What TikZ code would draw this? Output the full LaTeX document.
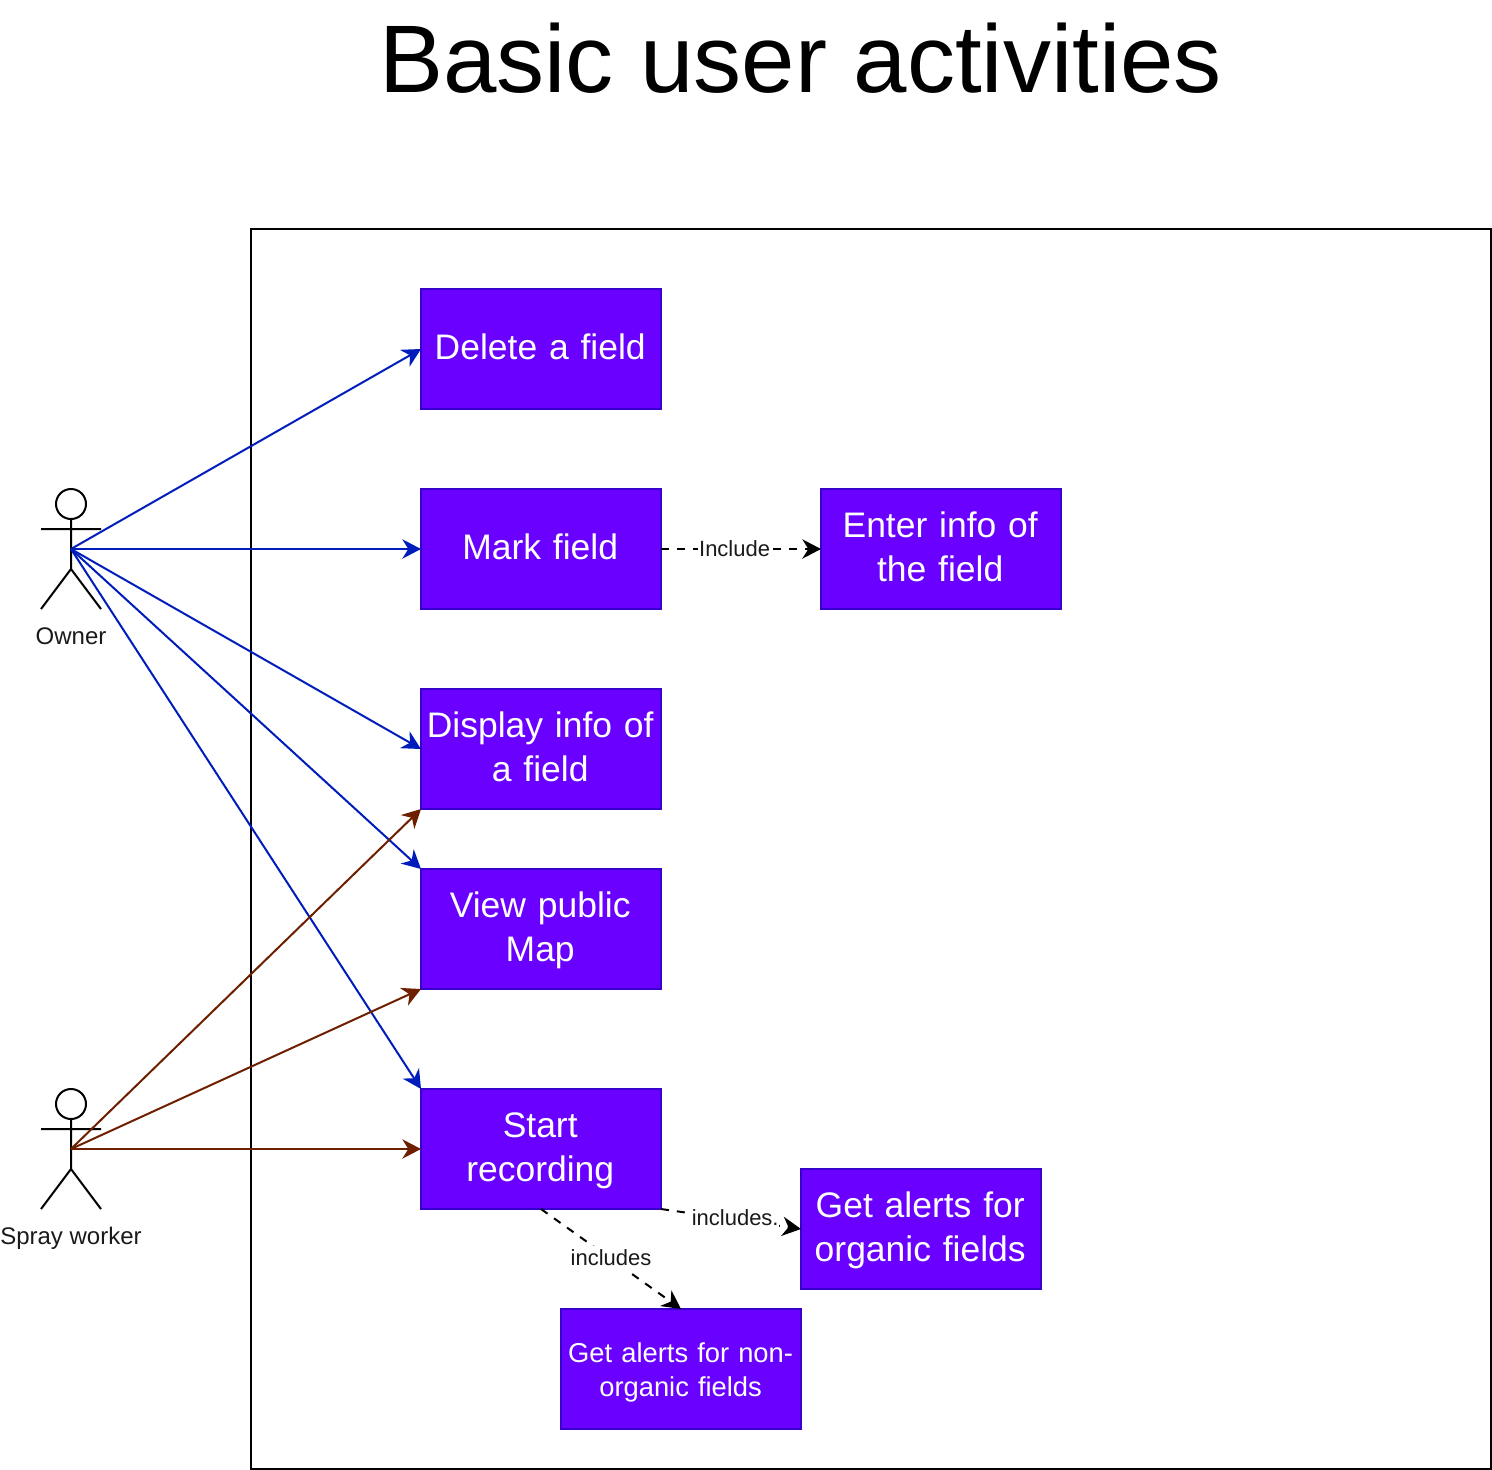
\documentclass[tikz,border=0pt]{standalone}
\usepackage{fontspec}
\setmainfont{Liberation Sans}
\usetikzlibrary{arrows.meta}
\definecolor{boxfill}{HTML}{6A00FF}
\definecolor{boxline}{HTML}{3700CC}
\definecolor{ownerblue}{HTML}{001DBC}
\definecolor{sprayred}{HTML}{6D1F00}
\definecolor{labelgrey}{HTML}{1A1A1A}
\newcommand{\bigstrut}{\rule[-8.5pt]{0pt}{33pt}\kern-1.2pt\relax}
\newcommand{\smallstrut}{\rule[-5pt]{0pt}{25.5pt}\kern-0.6pt\relax}
\tikzset{
  x=0.75pt,y=-0.75pt,
  tipshape/.tip={Stealth[length=14pt,width=14.5pt,inset=4.5pt]},
  usebox/.style={draw=boxline,fill=boxfill,line width=1.5pt,text=white,minimum width=180pt,minimum height=90pt,inner sep=0pt,outer sep=0pt,align=center,text width=175pt,font=\fontsize{26.6}{33}\selectfont},
  smallbox/.style={usebox,font=\fontsize{20.5}{25.5}\selectfont},
  framebox/.style={draw=black,line width=1.5pt,fill=none},
  actorline/.style={draw=black,line width=1.5pt},
  actorlabel/.style={text=labelgrey,inner sep=0pt,text height=13pt,text depth=0pt,font=\fontsize{18}{21}\selectfont},
  ownerlink/.style={draw=ownerblue,line width=1.5pt,-{tipshape[fill=ownerblue]}},
  spraylink/.style={draw=sprayred,line width=1.5pt,-{tipshape[fill=sprayred]}},
  dashlink/.style={draw=black,line width=1.5pt,dash pattern=on 6pt off 6pt,-{tipshape[fill=black]}},
  linklabel/.style={fill=white,text=labelgrey,inner xsep=0.5pt,inner ysep=0pt,text height=14.5pt,text depth=5.5pt,font=\fontsize{16.5}{19}\selectfont},
}
\begin{document}
\begin{tikzpicture}
\useasboundingbox (0,0) rectangle (1492,1470);
\node[inner sep=0pt,font=\fontsize{72}{80}\selectfont] (title) at (800.5,58) {Basic user activities};
\draw[framebox] (251,229) rectangle (1491,1469);

\node[usebox] (delete) at (541,349) {\bigstrut Delete a field};
\node[usebox] (mark) at (541,549) {\bigstrut Mark field};
\node[usebox] (enter) at (941,549) {\bigstrut Enter info of\\\bigstrut the field};
\node[usebox] (display) at (541,749) {\bigstrut Display info of\\\bigstrut a field};
\node[usebox] (view) at (541,929) {\bigstrut View public\\\bigstrut Map};
\node[usebox] (start) at (541,1149) {\bigstrut Start\\\bigstrut recording};
\node[usebox] (organic) at (921,1229) {\bigstrut Get alerts for\\\bigstrut organic fields};
\node[smallbox] (nonorganic) at (681,1369) {\smallstrut Get alerts for non-\\\smallstrut organic fields};

% Owner
\draw[actorline] (71,504) circle (15);
\draw[actorline] (71,519) -- (71,569) (41,529) -- (101,529) (41,609) -- (71,569) -- (101,609);
\coordinate (owner) at (71,549);
\node[actorlabel] (ownerlabel) at (71,635.5) {Owner};
% Spray worker
\draw[actorline] (71,1104) circle (15);
\draw[actorline] (71,1119) -- (71,1169) (41,1129) -- (101,1129) (41,1209) -- (71,1169) -- (101,1209);
\coordinate (spray) at (71,1149);
\node[actorlabel] (spraylabel) at (71,1235.5) {Spray worker};

\draw[ownerlink] (owner) -- (delete.west);
\draw[ownerlink] (owner) -- (mark.west);
\draw[ownerlink] (owner) -- (display.west);
\draw[ownerlink] (owner) -- (view.north west);
\draw[ownerlink] (owner) -- (start.north west);
\draw[spraylink] (spray) -- (display.south west);
\draw[spraylink] (spray) -- (view.south west);
\draw[spraylink] (spray) -- (start.west);

\draw[dashlink] (mark.east) -- node[linklabel,pos=0.46,yshift=-0.75pt] (inc1) {Include} (enter.west);
\draw[dashlink] (start.south east) -- node[linklabel,pos=0.53] (inc2) {includes.} (organic.west);
\draw[dashlink] (start.south) -- node[linklabel,pos=0.5] (inc3) {includes} (nonorganic.north);
\end{tikzpicture}
\end{document}
